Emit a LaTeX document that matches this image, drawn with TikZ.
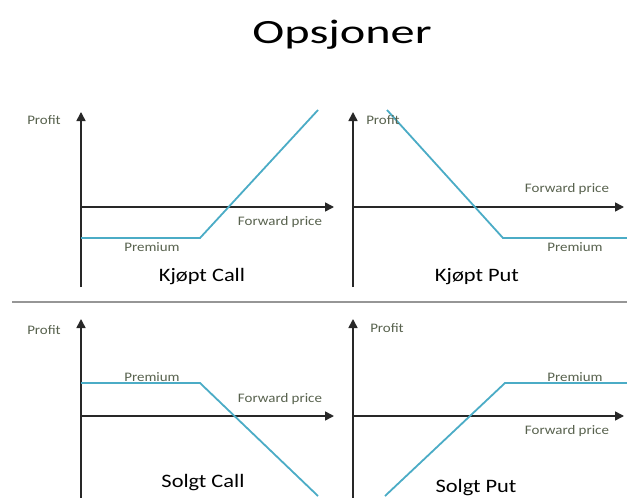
\documentclass[tikz,border=0pt]{standalone}
\usepackage{fontspec}
\usepackage{graphicx}
\setmainfont{Carlito}
\usetikzlibrary{arrows.meta}
\definecolor{labelc}{RGB}{88,98,78}
\definecolor{curve}{RGB}{75,172,198}
\definecolor{axisc}{RGB}{40,40,40}
\definecolor{sepc}{RGB}{150,150,150}
\newcommand\widetxt[2]{\scalebox{#1}[1]{#2}}
\tikzset{
  axis/.style={draw=axisc, line width=1.6pt, -{Triangle[length=9pt,width=9pt]}},
  payoff/.style={draw=curve, line width=1.8pt, line join=miter},
  small/.style={font=\fontsize{13}{13}\selectfont, text=labelc, inner sep=0pt},
  ttl/.style={font=\fontsize{19}{19}\selectfont, text=black, inner sep=0pt},
  big/.style={font=\fontsize{34}{34}\selectfont, text=black, inner sep=0pt},
}
\begin{document}
\begin{tikzpicture}[x=1pt,y=-1pt]
\useasboundingbox[fill=white] (0,0) rectangle (627,498);
% title
\node[big] (title) at (342,35) {\widetxt{1.42}{Opsjoner}};
% separator
\coordinate (s1) at (12,302);
\coordinate (s2) at (627,302);
\draw[sepc, line width=1.8pt] (s1) -- (s2);

% ---- top left: Kjøpt Call
\coordinate (tlo) at (81,287);
\coordinate (tly) at (81,112);
\coordinate (tlx0) at (81,207);
\coordinate (tlx) at (334,207);
\draw[axis] (tlo) -- (tly);
\draw[axis] (tlx0) -- (tlx);
\coordinate (tla) at (81,238);
\coordinate (tlb) at (200,238);
\coordinate (tlc) at (318,110);
\draw[payoff] (tla) -- (tlb) -- (tlc);
\node[small] (tlp) at (44,120) {\widetxt{1.15}{Profit}};
\node[small] (tlf) at (280,222) {\widetxt{1.15}{Forward price}};
\node[small] (tlm) at (152,247) {\widetxt{1.15}{Premium}};
\node[ttl] (tlt) at (202,277) {\widetxt{1.18}{Kjøpt Call}};

% ---- top right: Kjøpt Put
\coordinate (tro) at (353,287);
\coordinate (try) at (353,112);
\coordinate (trx0) at (353,207);
\coordinate (trx) at (624,207);
\draw[axis] (tro) -- (try);
\draw[axis] (trx0) -- (trx);
\coordinate (tra) at (387,110);
\coordinate (trb) at (503,238);
\coordinate (trc) at (627,238);
\draw[payoff] (tra) -- (trb) -- (trc);
\node[small] (trp) at (383,120) {\widetxt{1.15}{Profit}};
\node[small] (trf) at (567,189) {\widetxt{1.15}{Forward price}};
\node[small] (trm) at (575,247) {\widetxt{1.15}{Premium}};
\node[ttl] (trt) at (477,277) {\widetxt{1.18}{Kjøpt Put}};

% ---- bottom left: Solgt Call
\coordinate (blo) at (81,498);
\coordinate (bly) at (81,319);
\coordinate (blx0) at (81,416);
\coordinate (blx) at (334,416);
\draw[axis] (blo) -- (bly);
\draw[axis] (blx0) -- (blx);
\coordinate (bla) at (81,383);
\coordinate (blb) at (200,383);
\coordinate (blc) at (318,496);
\draw[payoff] (bla) -- (blb) -- (blc);
\node[small] (blp) at (44,330) {\widetxt{1.15}{Profit}};
\node[small] (blm) at (152,377) {\widetxt{1.15}{Premium}};
\node[small] (blf) at (280,399) {\widetxt{1.15}{Forward price}};
\node[ttl] (blt) at (203,483) {\widetxt{1.18}{Solgt Call}};

% ---- bottom right: Solgt Put
\coordinate (bro) at (353,498);
\coordinate (bry) at (353,319);
\coordinate (brx0) at (353,416);
\coordinate (brx) at (624,416);
\draw[axis] (bro) -- (bry);
\draw[axis] (brx0) -- (brx);
\coordinate (bra) at (385,496);
\coordinate (brb) at (505,383);
\coordinate (brc) at (627,383);
\draw[payoff] (bra) -- (brb) -- (brc);
\node[small] (brp) at (387,328) {\widetxt{1.15}{Profit}};
\node[small] (brm) at (575,377) {\widetxt{1.15}{Premium}};
\node[small] (brf) at (567,431) {\widetxt{1.15}{Forward price}};
\node[ttl] (brt) at (476,488) {\widetxt{1.18}{Solgt Put}};
\end{tikzpicture}
\end{document}
